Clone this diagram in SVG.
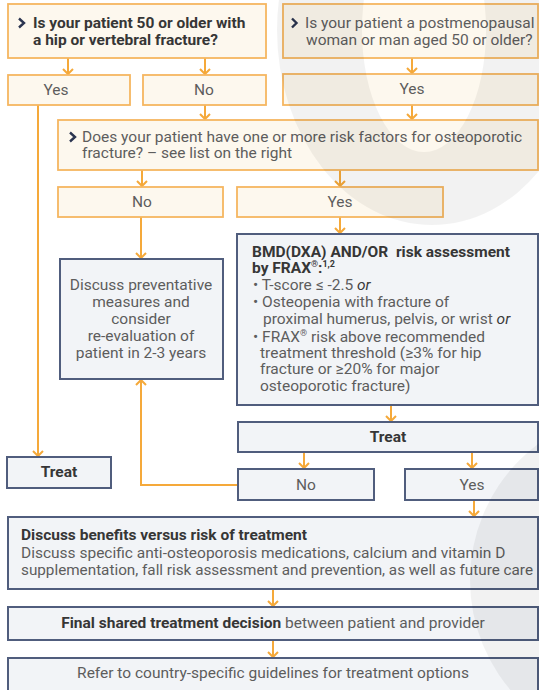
<svg xmlns="http://www.w3.org/2000/svg" width="539" height="690" viewBox="0 0 539 690">
<defs>
<style>
.ob{fill:#fdf8ee;stroke:#f5b660;stroke-width:1.8}
.bb{fill:#f2f4f7;stroke:#505d7d;stroke-width:2}
.t{font-family:Roboto,"Liberation Sans",sans-serif;font-size:15.5px;fill:#5d5d5d}
.m{text-anchor:middle}
.b{font-weight:bold;fill:#363636}
.i{font-style:italic;fill:#3a3a3a}
.c{fill:none;stroke:#f5a93a;stroke-width:2}
.chev{fill:none;stroke:#2b3550;stroke-width:2.4}
.sup{font-size:9px}
</style>
<marker id="ah" markerUnits="userSpaceOnUse" markerWidth="14" markerHeight="14" viewBox="-7 -7 14 14" refX="0" refY="0" orient="auto">
<path d="M-5,-5 L0,0 L-5,5" fill="none" stroke="#f5a93a" stroke-width="2"/>
</marker>
</defs>
<rect width="539" height="690" fill="#ffffff"/>

<g id="connectors">
<path class="c" d="M68,58 V74" marker-end="url(#ah)"/>
<path class="c" d="M205,58 V74" marker-end="url(#ah)"/>
<path class="c" d="M412,58 V73" marker-end="url(#ah)"/>
<path class="c" d="M205,105 V119" marker-end="url(#ah)"/>
<path class="c" d="M412,105 V119" marker-end="url(#ah)"/>
<path class="c" d="M38,105 V456" marker-end="url(#ah)"/>
<path class="c" d="M142,170 V186" marker-end="url(#ah)"/>
<path class="c" d="M340,170 V186" marker-end="url(#ah)"/>
<path class="c" d="M141,217 V258" marker-end="url(#ah)"/>
<path class="c" d="M340,217 V233" marker-end="url(#ah)"/>
<path class="c" d="M391,405 V421" marker-end="url(#ah)"/>
<path class="c" d="M304,452 V468" marker-end="url(#ah)"/>
<path class="c" d="M472,452 V468" marker-end="url(#ah)"/>
<path class="c" d="M238,485 H141 V380" marker-end="url(#ah)"/>
<path class="c" d="M474,500 V516" marker-end="url(#ah)"/>
<path class="c" d="M273,589 V606" marker-end="url(#ah)"/>
<path class="c" d="M273,640 V657" marker-end="url(#ah)"/>
</g>

<g id="q1">
<rect class="ob" x="8" y="4" width="258" height="54"/>
<polyline class="chev" points="19,18.5 24,23 19,27.5"/>
<text class="t b" x="33" y="28">Is your patient 50 or older with</text>
<text class="t b" x="33" y="45">a hip or vertebral fracture?</text>
</g>
<g id="q2">
<rect class="ob" x="283" y="4" width="255" height="54"/>
<polyline class="chev" points="292,18.5 296.5,23 292,27.5"/>
<text class="t" x="305" y="28">Is your patient a postmenopausal</text>
<text class="t" x="306" y="45">woman or man aged 50 or older?</text>
</g>
<g id="yes1">
<rect class="ob" x="8" y="75" width="122" height="30"/>
<text class="t m" x="56" y="95">Yes</text>
</g>
<g id="no1">
<rect class="ob" x="143" y="75" width="123" height="30"/>
<text class="t m" x="204" y="95">No</text>
</g>
<g id="yes2">
<rect class="ob" x="283" y="74" width="255" height="31"/>
<text class="t m" x="412" y="94">Yes</text>
</g>
<g id="q3">
<rect class="ob" x="58" y="120" width="480" height="50"/>
<polyline class="chev" points="70,132.5 75,137 70,141.5"/>
<text class="t" x="82" y="142">Does your patient have one or more risk factors for osteoporotic</text>
<text class="t" x="82" y="158">fracture? – see list on the right</text>
</g>
<g id="no2">
<rect class="ob" x="58" y="187" width="165" height="30"/>
<text class="t m" x="142" y="207">No</text>
</g>
<g id="yes3">
<rect class="ob" x="237" y="187" width="206" height="30"/>
<text class="t m" x="340" y="207">Yes</text>
</g>
<g id="discuss">
<rect class="bb" x="60" y="259" width="163" height="120"/>
<text class="t m" x="141" y="290">Discuss preventative</text>
<text class="t m" x="141" y="307">measures and</text>
<text class="t m" x="141" y="324">consider</text>
<text class="t m" x="141" y="341">re-evaluation of</text>
<text class="t m" x="141" y="358">patient in 2-3 years</text>
</g>
<g id="bmd">
<rect class="bb" x="237" y="234" width="301" height="171"/>
<text class="t b" x="252" y="257" style="white-space:pre">BMD(DXA) AND/OR  risk assessment</text>
<text class="t b" x="252" y="273">by FRAX<tspan class="sup" dy="-6">®</tspan><tspan dy="6">:</tspan><tspan class="sup" dy="-6">1,2</tspan></text>
<text class="t" x="253" y="290">• T-score ≤ -2.5 <tspan class="i">or</tspan></text>
<text class="t" x="253" y="307">• Osteopenia with fracture of</text>
<text class="t" x="263" y="324">proximal humerus, pelvis, or wrist <tspan class="i">or</tspan></text>
<text class="t" x="253" y="342">• FRAX<tspan class="sup" dy="-6">®</tspan><tspan dy="6"> risk above recommended</tspan></text>
<text class="t" x="260" y="358">treatment threshold (≥3% for hip</text>
<text class="t" x="260" y="374">fracture or ≥20% for major</text>
<text class="t" x="260" y="391">osteoporotic fracture)</text>
</g>
<g id="treat-big">
<rect class="bb" x="238" y="422" width="300" height="30"/>
<text class="t m b" x="388" y="442">Treat</text>
</g>
<g id="treat-small">
<rect class="bb" x="7" y="457" width="104" height="31"/>
<text class="t m b" x="59" y="477">Treat</text>
</g>
<g id="no4">
<rect class="bb" x="238" y="469" width="136" height="31"/>
<text class="t m" x="306" y="490">No</text>
</g>
<g id="yes4">
<rect class="bb" x="405" y="469" width="133" height="31"/>
<text class="t m" x="472" y="490">Yes</text>
</g>
<g id="benefits">
<rect class="bb" x="8" y="517" width="530" height="72"/>
<text class="t b" x="21" y="540">Discuss benefits versus risk of treatment</text>
<text class="t" x="21" y="558">Discuss specific anti-osteoporosis medications, calcium and vitamin D</text>
<text class="t" x="21" y="575" style="font-size:15.1px" textLength="512" lengthAdjust="spacingAndGlyphs">supplementation, fall risk assessment and prevention, as well as future care</text>
</g>
<g id="final">
<rect class="bb" x="8" y="607" width="530" height="33"/>
<text class="t m" x="273" y="628"><tspan class="b">Final shared treatment decision</tspan> between patient and provider</text>
</g>
<g id="refer">
<rect class="bb" x="8" y="658" width="530" height="40"/>
<text class="t m" x="273" y="678">Refer to country-specific guidelines for treatment options</text>
</g>

<g id="watermark" fill="#000000" opacity="0.05">
<path fill-rule="evenodd" d="M277,30 A155,195 0 1,0 587,30 A155,195 0 1,0 277,30 Z M362,30 A62,122 0 1,0 486,30 A62,122 0 1,0 362,30 Z"/>
<circle cx="640" cy="580" r="170"/>
</g>
</svg>
